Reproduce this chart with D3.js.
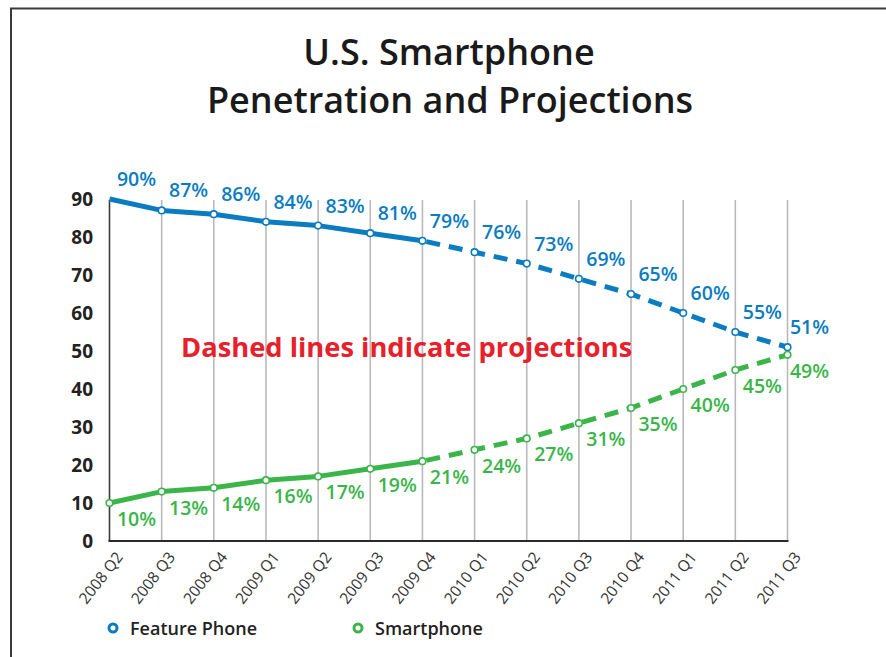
<!DOCTYPE html>
<html>
<head>
<meta charset="utf-8">
<script src="https://cdn.jsdelivr.net/npm/d3@7"></script>
<style>
  body { margin: 0; background: #fff; }
  svg { display: block; font-family: "Open Sans", Lato, sans-serif; }
</style>
</head>
<body>
<div class="chart"></div>
<script>
// U.S. smartphone vs feature phone penetration, actuals + projections
const quarters = ["2008 Q2", "2008 Q3", "2008 Q4", "2009 Q1", "2009 Q2", "2009 Q3", "2009 Q4",
  "2010 Q1", "2010 Q2", "2010 Q3", "2010 Q4", "2011 Q1", "2011 Q2", "2011 Q3"];
const featurePhone = [90, 87, 86, 84, 83, 81, 79, 76, 73, 69, 65, 60, 55, 51];
const smartphone = [10, 13, 14, 16, 17, 19, 21, 24, 27, 31, 35, 40, 45, 49];
const yTicks = [0, 10, 20, 30, 40, 50, 60, 70, 80, 90];
const lastActual = "2009 Q4"; // after this the lines are projections

const W = 886, H = 657;
const blue = "#0b7cbf", green = "#3bb54a";

const svg = d3.select(".chart").append("svg")
  .attr("width", W)
  .attr("height", H);

// frame lines at top / left
svg.append("path")
  .attr("d", `M11,${H} V8.5 H${W}`)
  .attr("fill", "none")
  .attr("stroke", "#3a3a3a")
  .attr("stroke-width", 2);

// title
svg.append("text")
  .attr("x", 449).attr("y", 65)
  .attr("text-anchor", "middle")
  .style("font-size", "36px").style("font-weight", 600).style("fill", "#1a1a1a")
  .text("U.S. Smartphone");
svg.append("text")
  .attr("x", 450).attr("y", 113)
  .attr("text-anchor", "middle")
  .style("font-size", "36px").style("font-weight", 600).style("fill", "#1a1a1a")
  .text("Penetration and Projections");

let x = d3.scalePoint().domain(quarters).range([109.5, 787.5]);
let y = d3.scaleLinear().domain([0, 90]).range([541, 199]);

// vertical grid lines
svg.append("g").attr("class", "grid")
  .selectAll("line")
  .data(quarters)
  .join("line")
  .attr("x1", (d) => x(d)).attr("x2", (d) => x(d))
  .attr("y1", y(0)).attr("y2", y(90) + 1)
  .attr("stroke", (d, i) => (i === 0 ? "#3a3a3a" : "#b9b9bd"))
  .attr("stroke-width", 1.6);

// x axis line
svg.append("line")
  .attr("x1", x(quarters[0]) - 1).attr("x2", x(quarters[quarters.length - 1]) + 1)
  .attr("y1", y(0)).attr("y2", y(0))
  .attr("stroke", "#2a2a2a").attr("stroke-width", 1.8);

// y tick labels
svg.append("g").attr("class", "y-axis")
  .selectAll("text")
  .data(yTicks)
  .join("text")
  .attr("x", 93).attr("y", (d) => y(d))
  .attr("dy", "0.36em")
  .attr("text-anchor", "end")
  .style("font-size", "19px").style("font-weight", 700).style("fill", "#222")
  .text((d) => d);

// x tick labels, rotated
svg.append("g").attr("class", "x-axis")
  .selectAll("text")
  .data(quarters)
  .join("text")
  .attr("transform", (d) => `translate(${x(d) + 10}, ${y(0) + 13}) rotate(-52)`)
  .attr("dy", "0.35em")
  .attr("text-anchor", "end")
  .style("font-size", "15.5px").style("fill", "#333")
  .text((d) => d);

// annotation
svg.append("text")
  .attr("x", 181).attr("y", 357)
  .style("font-size", "27.3px").style("font-weight", 700).style("fill", "#e6212b")
  .text("Dashed lines indicate projections");

const cut = quarters.indexOf(lastActual);
const line = d3.line().x((d) => x(d.q)).y((d) => y(d.v));

function drawSeries(values, color, labelDy, skipFirstDot) {
  const pts = values.map((v, i) => ({ q: quarters[i], v: v, i: i }));
  const g = svg.append("g");
  g.append("path")
    .attr("d", line(pts.slice(0, cut + 1)))
    .attr("fill", "none").attr("stroke", color)
    .attr("stroke-width", 5).attr("stroke-linejoin", "round");
  g.append("path")
    .attr("d", line(pts.slice(cut)))
    .attr("fill", "none").attr("stroke", color)
    .attr("stroke-width", 5)
    .attr("stroke-dasharray", "14,9")
    .attr("stroke-dashoffset", -4);
  g.selectAll("circle")
    .data(pts.filter((d) => !(skipFirstDot && d.i === 0)))
    .join("circle")
    .attr("cx", (d) => x(d.q)).attr("cy", (d) => y(d.v))
    .attr("r", 3.3)
    .attr("fill", "#fff").attr("stroke", color).attr("stroke-width", 1.6);
  g.selectAll("text")
    .data(pts)
    .join("text")
    .attr("x", (d) => x(d.q) + (d.i === quarters.length - 1 ? 22 : 27))
    .attr("y", (d) => y(d.v) + labelDy)
    .attr("text-anchor", "middle")
    .style("font-size", "19.5px").style("font-weight", 600).style("fill", color)
    .text((d) => d.v + "%");
}

drawSeries(featurePhone, blue, -13, true);
drawSeries(smartphone, green, 23, false);

// legend
const legend = [
  { name: "Feature Phone", color: blue, x: 113 },
  { name: "Smartphone", color: green, x: 358 }
];
const lg = svg.append("g").selectAll("g").data(legend).join("g")
  .attr("transform", (d) => `translate(${d.x}, 628)`);
lg.append("circle")
  .attr("r", 4)
  .attr("fill", "#fff")
  .attr("stroke", (d) => d.color)
  .attr("stroke-width", 3);
lg.append("text")
  .attr("x", 17).attr("y", 6.5)
  .style("font-size", "18px").style("font-weight", 600).style("fill", "#222")
  .text((d) => d.name);
</script>
</body>
</html>
